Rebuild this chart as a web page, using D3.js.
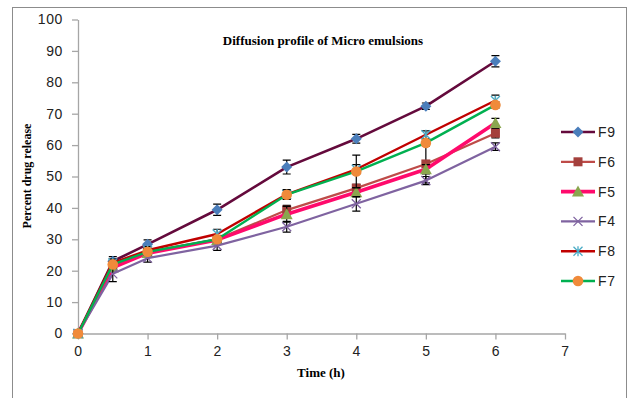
<!DOCTYPE html>
<html><head><meta charset="utf-8">
<script src="https://cdn.jsdelivr.net/npm/d3@7"></script>
<style>body{margin:0;background:#fff}svg{display:block}</style>
</head><body>
<svg id="c" width="630" height="398"></svg>
<script>
const times = [0, 0.5, 1, 2, 3, 4, 5, 6];
const seriesNames = ["F9", "F6", "F5", "F4", "F8", "F7"];
const F9 = [0, 23, 28.4, 39.4, 53, 62, 72.4, 86.7];
const F6 = [0, 21.5, 26, 30, 39.3, 46.3, 54, 63.8];
const F5 = [0, 21, 25.6, 29.8, 38, 45, 52.3, 67];
const F4 = [0, 19, 24, 28, 34, 41.3, 48.7, 59.5];
const F8 = [0, 22.5, 26.5, 31.7, 44.3, 52.3, 63.3, 74.2];
const F7 = [0, 22, 26, 30, 44.2, 51.6, 60.7, 72.8];
const errF9 = [0, 1.5, 1.4, 1.8, 2.2, 1.4, 1.0, 1.8];
const errF6 = [0, 1.0, 1.0, 1.0, 1.5, 1.2, 6.0, 1.5];
const errF5 = [0, 1.0, 1.0, 1.0, 2.5, 1.5, 1.5, 1.5];
const errF4 = [0, 2.5, 1.3, 1.5, 1.7, 2.3, 1.3, 1.2];
const errF8 = [0, 1.2, 1.2, 1.5, 1.5, 1.5, 1.2, 1.7];
const errF7 = [0, 1.0, 1.0, 1.0, 1.5, 5.2, 1.0, 1.0];
const xTicks = [0, 1, 2, 3, 4, 5, 6, 7];
const yTicks = [0, 10, 20, 30, 40, 50, 60, 70, 80, 90, 100];

const series = [
  {name:"F9", v:F9, e:errF9, line:"#640a3c", lw:2.6, marker:"diamond", mc:"#4a7ebb"},
  {name:"F6", v:F6, e:errF6, line:"#be4b48", lw:2.2, marker:"square", mc:"#a4403c"},
  {name:"F5", v:F5, e:errF5, line:"#ff0a6c", lw:3.6, marker:"triangle", mc:"#8aa64e"},
  {name:"F4", v:F4, e:errF4, line:"#7f63a0", lw:2.2, marker:"x", mc:"#7f63a0"},
  {name:"F8", v:F8, e:errF8, line:"#c00000", lw:2.4, marker:"star", mc:"#4bacc6"},
  {name:"F7", v:F7, e:errF7, line:"#00b050", lw:2.4, marker:"circle", mc:"#f08a3a"}
];

const svg = d3.select("#c");
const x = d3.scaleLinear().domain([0,7]).range([78,565]);
const y = d3.scaleLinear().domain([0,100]).range([333.5,19.5]);

// outer frame
svg.append("rect").attr("x",12.5).attr("y",7.5).attr("width",614).attr("height",400)
  .attr("fill","none").attr("stroke","#8c8c8c").attr("stroke-width",1);

const tickFont = "'Liberation Sans', Arial, sans-serif";
const serif = "'Liberation Serif','Times New Roman',serif";
const axisColor = "#a6a6a6";

const yAxis = svg.append("g").attr("transform","translate(78,0)")
  .call(d3.axisLeft(y).tickValues(yTicks).tickSize(6).tickPadding(9).tickSizeOuter(0));
const xAxis = svg.append("g").attr("transform","translate(0,333.5)")
  .call(d3.axisBottom(x).tickValues(xTicks).tickFormat(d3.format("d")).tickSize(6).tickPadding(7).tickSizeOuter(0));
[yAxis,xAxis].forEach(g=>{
  g.selectAll("path,line").attr("stroke",axisColor).attr("stroke-width",1.3);
  g.selectAll("text").attr("fill","#222").style("font-family",tickFont).style("font-size","14px").style("letter-spacing","0.6px");
});

// titles
svg.append("text").attr("x",323).attr("y",45).attr("text-anchor","middle")
  .style("font-family",serif).style("font-weight","bold")
  .style("font-size","13px").text("Diffusion profile of Micro emulsions");
svg.append("text").attr("x",321).attr("y",377).attr("text-anchor","middle")
  .style("font-family",serif).style("font-weight","bold")
  .style("font-size","13px").text("Time (h)");
svg.append("text").attr("transform","translate(31,176) rotate(-90)").attr("text-anchor","middle")
  .style("font-family",serif).style("font-weight","bold")
  .style("font-size","12px").text("Percent drug release");

function drawMarker(g, type, color, cx, cy) {
  if (type==="diamond") {
    const r=5.5;
    g.append("path").attr("d",`M${cx},${cy-r}L${cx+r},${cy}L${cx},${cy+r}L${cx-r},${cy}Z`).attr("fill",color);
  } else if (type==="square") {
    g.append("rect").attr("x",cx-4.5).attr("y",cy-4.5).attr("width",9).attr("height",9).attr("fill",color);
  } else if (type==="triangle") {
    g.append("path").attr("d",`M${cx},${cy-6}L${cx+6},${cy+5}L${cx-6},${cy+5}Z`).attr("fill",color);
  } else if (type==="circle") {
    g.append("circle").attr("cx",cx).attr("cy",cy).attr("r",5.3).attr("fill",color);
  } else if (type==="x") {
    const r=4.5;
    g.append("path").attr("d",`M${cx-r},${cy-r}L${cx+r},${cy+r}M${cx-r},${cy+r}L${cx+r},${cy-r}`)
      .attr("stroke",color).attr("stroke-width",1.3).attr("fill","none");
  } else if (type==="star") {
    const r=4.5;
    g.append("path").attr("d",`M${cx-r},${cy-r}L${cx+r},${cy+r}M${cx-r},${cy+r}L${cx+r},${cy-r}M${cx},${cy-r-0.5}L${cx},${cy+r+0.5}`)
      .attr("stroke",color).attr("stroke-width",1.3).attr("fill","none");
  }
}

const plot = svg.append("g");
const line = d3.line().x((d,i)=>x(times[i])).y(d=>y(d));
series.forEach(s=>{
  const g = plot.append("g");
  g.append("path").datum(s.v).attr("d",line).attr("fill","none")
    .attr("stroke",s.line).attr("stroke-width",s.lw).attr("stroke-linejoin","round");
  s.v.forEach((v,i)=>{
    const e = s.e[i]; if (!e) return;
    const cx = x(times[i]);
    g.append("path").attr("d",`M${cx},${y(v-e)}L${cx},${y(v+e)}M${cx-4},${y(v-e)}L${cx+4},${y(v-e)}M${cx-4},${y(v+e)}L${cx+4},${y(v+e)}`)
      .attr("stroke","#000").attr("stroke-width",1.2).attr("fill","none");
  });
  s.v.forEach((v,i)=>drawMarker(g, s.marker, s.mc, x(times[i]), y(v)));
});

// legend
const legend = svg.append("g");
series.forEach((s,i)=>{
  const ly = 132 + i*29.8;
  legend.append("line").attr("x1",561).attr("x2",595).attr("y1",ly).attr("y2",ly)
    .attr("stroke",s.line).attr("stroke-width",s.lw);
  drawMarker(legend, s.marker, s.mc, 578, ly);
  legend.append("text").attr("x",598).attr("y",ly+5).style("font-family",tickFont)
    .style("font-size","14px").style("letter-spacing","0.6px").attr("fill","#222").text(s.name);
});
</script>
</body></html>
